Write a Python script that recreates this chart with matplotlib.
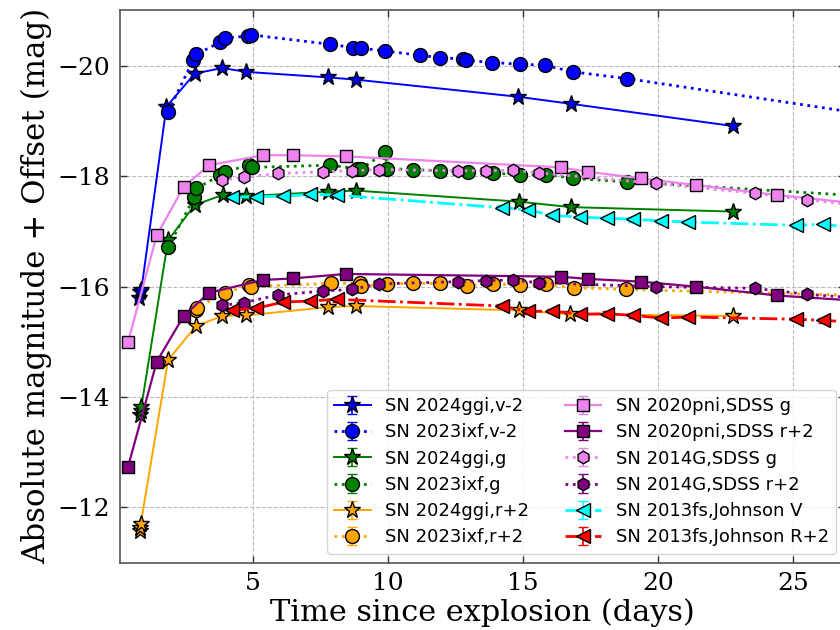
import matplotlib
matplotlib.use("Agg")
import matplotlib.pyplot as plt
import numpy as np

# ---------------- data ----------------
# SN 2024ggi (stars)
ggi_v_t = [0.78, 0.82, 0.86, 1.79, 2.84, 3.85, 4.75, 7.78, 8.80, 14.81, 16.79, 22.76]
ggi_v_m = [-15.80, -15.90, -15.94, -19.26, -19.86, -19.96, -19.89, -19.79, -19.75, -19.44, -19.31, -18.91]
ggi_g_t = [0.80, 0.83, 0.86, 1.85, 2.84, 3.87, 4.75, 7.78, 8.80, 14.83, 16.77, 22.76]
ggi_g_m = [-13.68, -13.75, -13.82, -16.84, -17.48, -17.66, -17.64, -17.72, -17.74, -17.54, -17.44, -17.36]
ggi_r_t = [0.80, 0.82, 0.84, 1.85, 2.87, 3.85, 4.75, 7.78, 8.80, 14.83, 16.75, 22.76]
ggi_r_m = [-11.58, -11.63, -11.71, -14.67, -15.28, -15.47, -15.48, -15.63, -15.65, -15.57, -15.50, -15.47]

# SN 2023ixf (circles)
ixf_t = [1.85, 2.78, 2.90, 3.79, 3.95, 4.81, 4.94, 7.84, 8.70, 8.98, 9.88, 11.17, 11.91,
         12.78, 12.90, 13.83, 14.88, 15.80, 16.85, 18.83, 29.0]
ixf_v_m = [-19.17, -20.10, -20.21, -20.43, -20.50, -20.54, -20.56, -20.39, -20.33, -20.32, -20.27,
           -20.19, -20.15, -20.12, -20.10, -20.06, -20.03, -20.01, -19.89, -19.77, -19.03]
ixf_g_t = [1.85, 2.82, 2.90, 3.79, 3.95, 4.84, 4.96, 7.84, 8.83, 9.01, 9.90, 9.96, 10.93, 11.91,
           12.96, 13.89, 14.88, 15.86, 16.85, 18.83, 29.0]
ixf_g_m = [-16.71, -17.62, -17.78, -18.02, -18.08, -18.20, -18.16, -18.20, -18.14, -18.14, -18.43,
           -18.14, -18.12, -18.10, -18.08, -18.06, -18.02, -18.03, -17.96, -17.90, -17.60]
ixf_r_t = [2.88, 2.92, 3.95, 4.84, 4.94, 7.87, 8.95, 9.00, 9.96, 10.93, 11.91, 12.92, 13.89,
           14.88, 15.86, 16.88, 18.80, 29.0]
ixf_r_m = [-15.57, -15.62, -15.88, -16.03, -16.00, -16.06, -16.06, -16.01, -16.05, -16.06, -16.06,
           -16.01, -16.05, -16.03, -16.04, -15.98, -15.95, -15.82]

# SN 2020pni (squares)
pni_t = [0.37, 1.43, 2.43, 3.37, 5.36, 6.48, 8.43, 16.39, 17.41, 19.38, 21.39, 24.40, 27.5]
pni_g_m = [-15.00, -16.93, -17.81, -18.20, -18.38, -18.38, -18.36, -18.16, -18.08, -17.96, -17.84,
           -17.66, -17.50]
pni_r_m = [-12.74, -14.64, -15.47, -15.89, -16.12, -16.15, -16.23, -16.18, -16.14, -16.09, -16.00,
           -15.84, -15.74]

# SN 2014G (hexagons)
g14_t = [3.85, 4.66, 5.92, 7.60, 8.65, 9.68, 12.59, 13.64, 14.63, 15.57, 19.91, 23.58, 25.53, 27.5]
g14_g_m = [-17.93, -17.98, -18.05, -18.08, -18.10, -18.12, -18.10, -18.10, -18.11, -18.06, -17.87,
           -17.69, -17.57, -17.47]
g14_r_m = [-15.66, -15.71, -15.85, -15.92, -15.95, -16.05, -16.09, -16.11, -16.12, -16.07, -16.00,
           -15.97, -15.86, -15.79]

# SN 2013fs (triangles)
fs_t = [4.20, 5.12, 6.11, 7.10, 8.09, 14.20, 15.19, 16.08, 17.10, 18.09, 19.08, 20.11, 21.11,
        25.12, 26.11, 27.5]
fs_V_m = [-17.62, -17.63, -17.64, -17.67, -17.66, -17.43, -17.39, -17.29, -17.26, -17.24, -17.22,
          -17.19, -17.17, -17.11, -17.13, -17.05]
fs_R_m = [-15.57, -15.61, -15.72, -15.74, -15.77, -15.65, -15.55, -15.56, -15.50, -15.51, -15.48,
          -15.43, -15.45, -15.41, -15.39, -15.35]

labels = ["SN 2024ggi,v-2", "SN 2023ixf,v-2", "SN 2024ggi,g", "SN 2023ixf,g",
          "SN 2024ggi,r+2", "SN 2023ixf,r+2", "SN 2020pni,SDSS g", "SN 2020pni,SDSS r+2",
          "SN 2014G,SDSS g", "SN 2014G,SDSS r+2", "SN 2013fs,Johnson V", "SN 2013fs,Johnson R+2"]

x_ticks = [5, 10, 15, 20, 25]
y_ticks = [-12, -14, -16, -18, -20]

# ---------------- figure ----------------
fig = plt.figure(figsize=(8.4, 6.3), dpi=100)
ax = fig.add_axes([120 / 840, (630 - 562.7) / 630, 725 / 840, 553.2 / 630])

series = [
    (ggi_v_t, ggi_v_m, "blue", "*", "-", 12.5, 1.4),
    (ixf_t, ixf_v_m, "blue", "o", ":", 10, 2.0),
    (ggi_g_t, ggi_g_m, "green", "*", "-", 12.5, 1.4),
    (ixf_g_t, ixf_g_m, "green", "o", ":", 10, 2.0),
    (ggi_r_t, ggi_r_m, "orange", "*", "-", 12.5, 1.4),
    (ixf_r_t, ixf_r_m, "orange", "o", ":", 10, 2.0),
    (pni_t, pni_g_m, "violet", "s", "-", 9, 1.6),
    (pni_t, pni_r_m, "purple", "s", "-", 9, 1.6),
    (g14_t, g14_g_m, "violet", "h", ":", 9, 2.0),
    (g14_t, g14_r_m, "purple", "h", ":", 9, 2.0),
    (fs_t, fs_V_m, "cyan", "<", "-.", 9.5, 2.0),
    (fs_t, fs_R_m, "red", "<", "-.", 9.5, 2.0),
]

for (t, m, c, mk, ls, ms, lw), lab in zip(series, labels):
    ax.errorbar(t, m, yerr=0.04, color=c, marker=mk, ls=ls, lw=lw, ms=ms,
                mec="black", mew=1.0, ecolor=c, elinewidth=1.2, capsize=3.5,
                label=lab)

ax.set_xlim(0.07, 26.92)
ax.set_ylim(-11.0, -21.02)
ax.set_xticks(x_ticks)
ax.set_yticks(y_ticks)
ax.set_xticklabels([str(v) for v in x_ticks], family="DejaVu Serif", fontsize=18)
ax.set_yticklabels(["\u2212" + str(abs(v)) for v in y_ticks], family="DejaVu Serif", fontsize=18)
ax.tick_params(direction="in", top=True, right=True, length=5, width=1, colors="#333333",
               labelcolor="black", pad=7)
ax.grid(True, ls="--", color="#bbbbbb", lw=0.8)
for s in ax.spines.values():
    s.set_color("#555555")
    s.set_linewidth(1.2)

ax.set_xlabel("Time since explosion (days)", family="DejaVu Serif", fontsize=22, labelpad=2)
ax.set_ylabel("Absolute magnitude + Offset (mag)", family="DejaVu Serif", fontsize=22, labelpad=4)

leg = ax.legend(ncol=2, loc="lower right",
                prop={"family": "DejaVu Sans", "size": 13}, handlelength=2.0,
                columnspacing=2.0, labelspacing=0.46, frameon=True, fancybox=True)
leg.get_frame().set_edgecolor("#cccccc")

# fit label sizes to the reference's measured label lengths (pixels)
fig.canvas.draw()
rend = fig.canvas.get_renderer()
xl = ax.xaxis.label
xl.set_fontsize(xl.get_fontsize() * 426.0 / xl.get_window_extent(rend).width)
yl = ax.yaxis.label
yl.set_fontsize(yl.get_fontsize() * 555.0 / yl.get_window_extent(rend).height)

fig.savefig("out.png", dpi=100)
